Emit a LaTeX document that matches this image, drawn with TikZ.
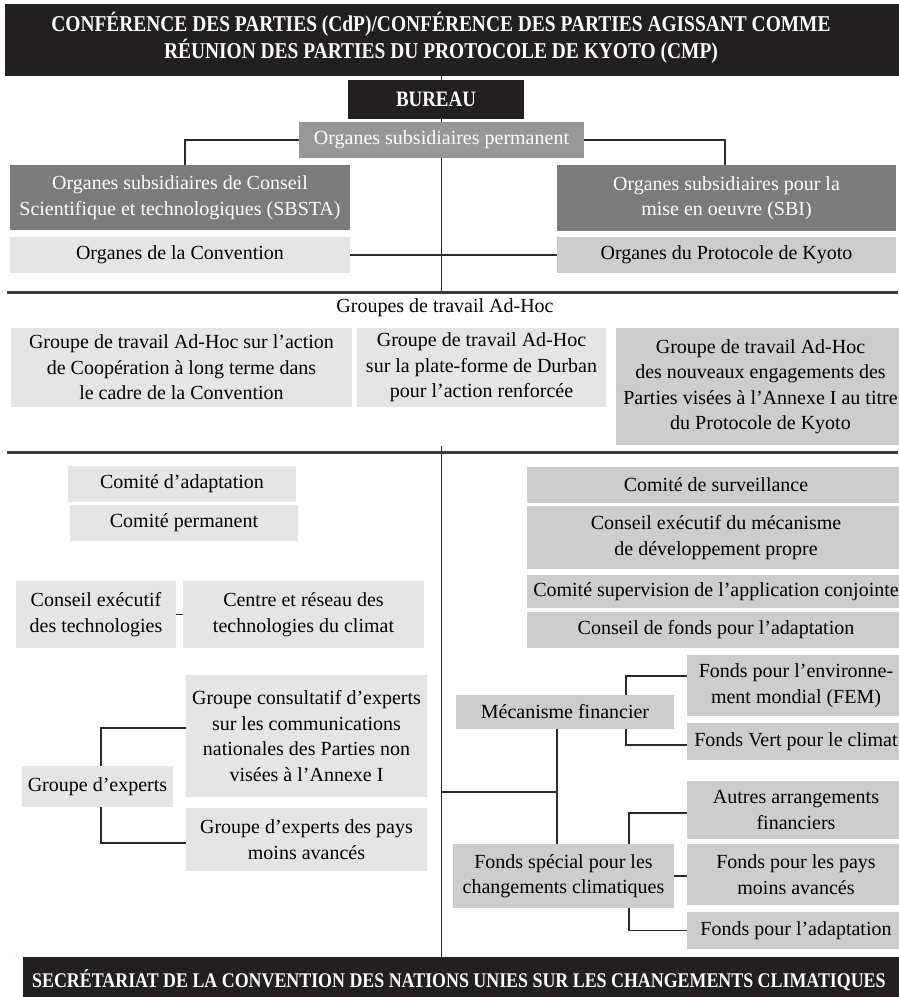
\documentclass[tikz,border=0pt]{standalone}
\usepackage{fontspec}
\setmainfont{Liberation Serif}
\newfontfamily\capsf[FakeStretch=0.86]{Liberation Serif}
\definecolor{cdark}{HTML}{231F20}
\definecolor{cmid}{HTML}{7B7B7D}
\definecolor{cmid2}{HTML}{97979A}
\definecolor{clight}{HTML}{E5E5E7}
\definecolor{cmed}{HTML}{CDCDCF}
\definecolor{cline}{HTML}{2A2A2A}
\definecolor{crule}{HTML}{3C3C3C}
\newcommand\txt{\fontsize{20}{25.5}\selectfont}
\tikzset{
  box/.style={rectangle, inner sep=0pt, align=center, font=\txt},
  sz/.style 2 args={minimum width=#1pt, minimum height=#2pt},
  darkbox/.style={box, fill=cdark, text=white},
  midbox/.style={box, fill=cmid, text=white},
  mid2box/.style={box, fill=cmid2, text=white},
  lightbox/.style={box, fill=clight, text=black},
  medbox/.style={box, fill=cmed, text=black},
  conn/.style={draw=cline, line width=1.8pt},
  rulel/.style={draw=crule, line width=3pt},
}
\begin{document}
\begin{tikzpicture}[x=1pt,y=-1pt]
\useasboundingbox (0,0) rectangle (898,997);
% top
\node[darkbox, sz={900}{72}] (top) at (455,40) {};
\node[font=\capsf\bfseries\fontsize{22.6}{27}\selectfont, text=white, align=center, inner sep=0pt] (toptxt) at (441,38)
  {CONFÉRENCE DES PARTIES (CdP)/CONFÉRENCE DES PARTIES AGISSANT COMME\\RÉUNION DES PARTIES DU PROTOCOLE DE KYOTO (CMP)};
\node[darkbox, sz={176}{39}, font=\capsf\bfseries\fontsize{22}{25}\selectfont] (bureau) at (436,99.5) {BUREAU};
\node[mid2box, sz={285}{36}] (osp) at (441.5,140) {Organes subsidiaires permanent};
\node[midbox, sz={340}{65}] (sbsta) at (180,197.5) {Organes subsidiaires de Conseil\\Scientifique et technologiques (SBSTA)};
\node[midbox, sz={339}{66}] (sbi) at (726.5,198) {Organes subsidiaires pour la\\mise en oeuvre (SBI)};
\node[lightbox, sz={340}{36}] (oconv) at (180,255) {Organes de la Convention};
\node[medbox, sz={339}{36}] (okyoto) at (726.5,255) {Organes du Protocole de Kyoto};
\coordinate (r1l) at (7,292);
\coordinate (r1r) at (898,292);
% ad-hoc
\node[box] (adt) at (445,308) {Groupes de travail Ad-Hoc};
\node[lightbox, sz={341}{79}] (ahA) at (181.5,367.5) {Groupe de travail Ad-Hoc sur l’action\\de Coopération à long terme dans\\le cadre de la Convention};
\node[lightbox, sz={249}{79}] (ahB) at (481.5,367.5) {Groupe de travail Ad-Hoc\\sur la plate-forme de Durban\\pour l’action renforcée};
\node[medbox, sz={289}{117}] (ahC) at (760.5,386.5) {Groupe de travail Ad-Hoc\\des nouveaux engagements des\\Parties visées à l’Annexe I au titre\\du Protocole de Kyoto};
\coordinate (r2l) at (7,452);
\coordinate (r2r) at (898,452);
% left column
\node[lightbox, sz={228}{36}] (cadapt) at (182,484) {Comité d’adaptation};
\node[lightbox, sz={228}{36}] (cperm) at (184,523) {Comité permanent};
\node[lightbox, sz={160}{67}] (cet) at (96,614.5) {Conseil exécutif\\des technologies};
\node[lightbox, sz={241}{67}] (crtc) at (303.5,614.5) {Centre et réseau des\\technologies du climat};
\node[lightbox, sz={241}{122}] (gce) at (306.5,736) {Groupe consultatif d’experts\\sur les communications\\nationales des Parties non\\visées à l’Annexe I};
\node[lightbox, sz={151}{41}] (gexp) at (97.5,786.5) {Groupe d’experts};
\node[lightbox, sz={241}{63}] (gepma) at (306.5,839.5) {Groupe d’experts des pays\\moins avancés};
% right column
\node[medbox, sz={378}{36}] (csurv) at (716,485) {Comité de surveillance};
\node[medbox, sz={378}{63}] (cemdp) at (716,537.5) {Conseil exécutif du mécanisme\\de développement propre};
\node[medbox, sz={378}{33}] (csac) at (716,591.5) {Comité supervision de l’application conjointe};
\node[medbox, sz={378}{36}] (cfa) at (716,630) {Conseil de fonds pour l’adaptation};
\node[medbox, sz={218}{34}] (mecf) at (565,712) {Mécanisme financier};
\node[medbox, sz={218}{61}] (fem) at (796,685.5) {Fonds pour l’environne-\\ment mondial (FEM)};
\node[medbox, sz={218}{37}] (fvert) at (796,741.5) {Fonds Vert pour le climat};
\node[medbox, sz={218}{58}] (autres) at (796,810) {Autres arrangements\\financiers};
\node[medbox, sz={221}{64}] (fspec) at (563.5,876) {Fonds spécial pour les\\changements climatiques};
\node[medbox, sz={218}{61}] (fpma) at (796,874.5) {Fonds pour les pays\\moins avancés};
\node[medbox, sz={218}{37}] (fadapt) at (796,930.5) {Fonds pour l’adaptation};
% bottom
\node[darkbox, sz={882}{48}] (bottom) at (464,981) {};
\node[anchor=west, inner sep=0pt, text=white, font=\capsf\bfseries\fontsize{20.8}{24}\selectfont] (bottxt) at (32,980)
  {SECRÉTARIAT DE LA CONVENTION DES NATIONS UNIES SUR LES CHANGEMENTS CLIMATIQUES};
% connectors
\draw[conn] (top.south -| osp.north) -- (bureau.north -| osp.north);
\draw[conn] (bureau.south -| osp.north) -- (osp.north);
\draw[conn] (osp.west) -| ([xshift=5pt]sbsta.north);
\draw[conn] (osp.east) -| ([xshift=-1.5pt]sbi.north);
\draw[conn] (osp.south) -- (osp.south |- r1l);
\draw[conn] (oconv.east) -- (okyoto.west);
\draw[rulel] (r1l) -- (r1r);
\coordinate (s2) at (441.5,446);
\draw[conn] (s2) -- (s2 |- bottom.north);
\draw[rulel] (r2l) -- (r2r);
\draw[conn] (cet.east) -- (crtc.west);
\draw[conn] ([yshift=8pt]gce.west) -| ([xshift=3.5pt]gexp.north);
\draw[conn] ([yshift=-3.5pt]gepma.west) -| ([xshift=3.5pt]gexp.south);
\draw[conn] ([yshift=9.5pt]fem.west) -| ([xshift=61pt]mecf.north);
\draw[conn] ([yshift=-3.5pt]fvert.west) -| ([xshift=61pt]mecf.south);
\coordinate (j) at (441.5,792);
\draw[conn] (j) -| ([xshift=-6.5pt]fspec.north);
\draw[conn] ([xshift=-8pt]mecf.south) -- ([xshift=-6.5pt]fspec.north);
\draw[conn] ([yshift=-3pt]autres.west) -| ([xshift=65.5pt]fspec.north);
\draw[conn] (fspec.east) -- (fspec.east -| fpma.west);
\draw[conn] (fadapt.west) -| ([xshift=65.5pt]fspec.south);
\end{tikzpicture}
\end{document}
